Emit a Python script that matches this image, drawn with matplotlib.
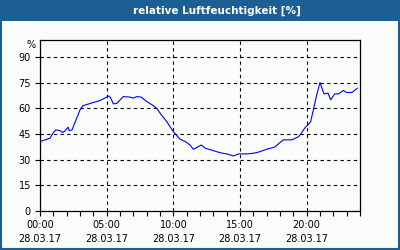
import matplotlib
matplotlib.use("Agg")
import matplotlib.pyplot as plt
from matplotlib.ticker import MultipleLocator, FixedLocator
from matplotlib.patches import Rectangle

title = "relative Luftfeuchtigkeit [%]"
date_label = "28.03.17"

# time in hours since 00:00, humidity in %
hours = [0, 0.75, 1.0, 1.2, 1.5, 1.7, 1.9, 2.1, 2.2, 2.4, 2.7, 3.0, 3.2, 3.85,
         4.5, 5.0, 5.15, 5.3, 5.5, 5.75, 6.25, 6.75, 7.0, 7.25, 7.6, 8.0, 8.4,
         8.75, 9.1, 9.5, 10.0, 10.5, 10.9, 11.25, 11.5, 12.1, 12.4, 13.0, 13.5,
         14.0, 14.5, 14.9, 15.6, 16.25, 17.0, 17.6, 18.25, 18.9, 19.4, 19.6,
         19.9, 20.1, 20.3, 20.5, 20.75, 21.0, 21.3, 21.6, 21.8, 22.1, 22.4,
         22.75, 23.0, 23.4, 23.8]
humidity = [40.6, 42.6, 45.9, 47.4, 47.0, 45.9, 47.0, 49.0, 47.0, 47.4, 53.3,
            59.1, 61.5, 63.1, 64.6, 66.6, 67.3, 66.2, 62.7, 62.9, 66.9, 66.6,
            66.0, 66.9, 66.6, 64.0, 62.1, 60.1, 56.2, 52.3, 46.4, 42.0, 40.6,
            38.6, 36.1, 38.6, 36.7, 35.3, 34.1, 33.4, 32.2, 33.4, 33.4, 34.1,
            36.1, 37.4, 41.6, 41.6, 43.5, 45.5, 49.0, 50.4, 52.3, 59.1, 67.9,
            75.1, 68.5, 68.9, 65.0, 68.5, 68.5, 70.5, 69.3, 69.3, 71.8]

x_ticks = [0, 5, 10, 15, 20]
x_labels = ["00:00", "05:00", "10:00", "15:00", "20:00"]
y_ticks = [0, 15, 30, 45, 60, 75, 90]

bg = "#f9fcf9"
blue = "#1c5f95"

fig = plt.figure(figsize=(4, 2.5), dpi=100, facecolor=bg)

# title bar and frame
fig.patches.append(Rectangle((0, 1 - 21 / 250), 1, 21 / 250, transform=fig.transFigure,
                             facecolor=blue, edgecolor="none", zorder=0))
fig.patches.append(Rectangle((1 / 400, 1 / 250), 1 - 2.5 / 400, 1 - 2 / 250,
                             transform=fig.transFigure, facecolor="none",
                             edgecolor=blue, linewidth=1.5, zorder=1))
fig.text(217 / 400, 1 - 10.5 / 250, title, color="white", fontsize=7.5,
         fontweight="bold", ha="center", va="center")

ax = fig.add_axes((40 / 400, 39 / 250, 320 / 400, 171 / 250))
ax.set_facecolor(bg)
ax.plot(hours, humidity, color="#0000ff", linewidth=0.8)

ax.set_xlim(0, 24)
ax.set_ylim(0, 100)
ax.xaxis.set_major_locator(FixedLocator(x_ticks))
ax.set_xticklabels([l + "\n" + date_label for l in x_labels])
ax.xaxis.set_minor_locator(MultipleLocator(1))
ax.yaxis.set_major_locator(FixedLocator(y_ticks))

ax.tick_params(axis="both", which="both", direction="out", length=3.5,
               width=0.8, colors="black", labelsize=7, pad=3)
for lbl in ax.get_xticklabels():
    lbl.set_linespacing(1.5)

ax.grid(True, which="major", color="black", linestyle=(0, (3, 3)), linewidth=0.8)
for s in ax.spines.values():
    s.set_linewidth(0.9)

ax.text(-0.015, 97, "%", transform=ax.get_yaxis_transform(), ha="right",
        va="center", fontsize=7)

fig.savefig("out.png", dpi=100, facecolor=bg)
